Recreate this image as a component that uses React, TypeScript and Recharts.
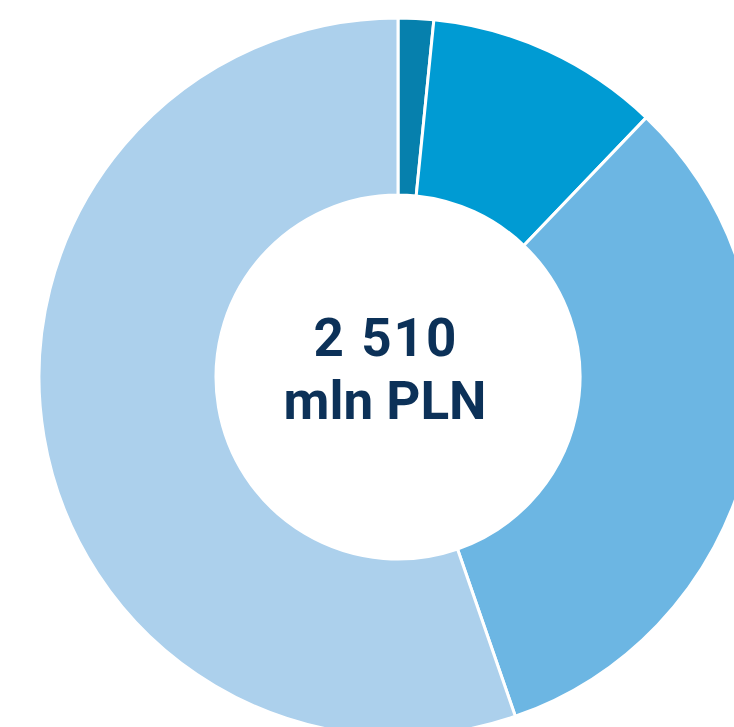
import { PieChart, Pie, Cell } from 'recharts';

// shares of the 2 510 mln PLN total, clockwise from 12 o'clock
const segments = ['A', 'B', 'C', 'D'];
const values = [40, 265, 817, 1388];
const colors = ['#0680ad', '#009bd3', '#6cb6e3', '#acd0ec'];

const totalLabel = '2 510';
const unitLabel = 'mln PLN';

const data = segments.map((name, i) => ({ name, value: values[i] }));

export default function App() {
  // pinned to the page corner so the body margin does not push it into a scrollbar
  return (
    <div style={{ position: 'fixed', top: 0, left: 0, width: 734, height: 727, overflow: 'hidden' }}>
      <PieChart width={734} height={727}>
        <Pie
          data={data}
          dataKey="value"
          cx={393}
          cy={372}
          innerRadius={182}
          outerRadius={359}
          startAngle={90}
          endAngle={-270}
          stroke="#ffffff"
          strokeWidth={3}
          isAnimationActive={false}
        >
          {data.map((d, i) => (
            <Cell key={d.name} fill={colors[i]} />
          ))}
        </Pie>
        <text
          x={386}
          y={356}
          textAnchor="middle"
          fill="#0c3158"
          style={{ fontFamily: 'Roboto', fontWeight: 700, fontSize: 53, letterSpacing: 2 }}
        >
          {totalLabel}
        </text>
        <text
          x={385}
          y={419}
          textAnchor="middle"
          fill="#0c3158"
          style={{ fontFamily: 'Roboto', fontWeight: 700, fontSize: 53 }}
        >
          {unitLabel}
        </text>
      </PieChart>
    </div>
  );
}
